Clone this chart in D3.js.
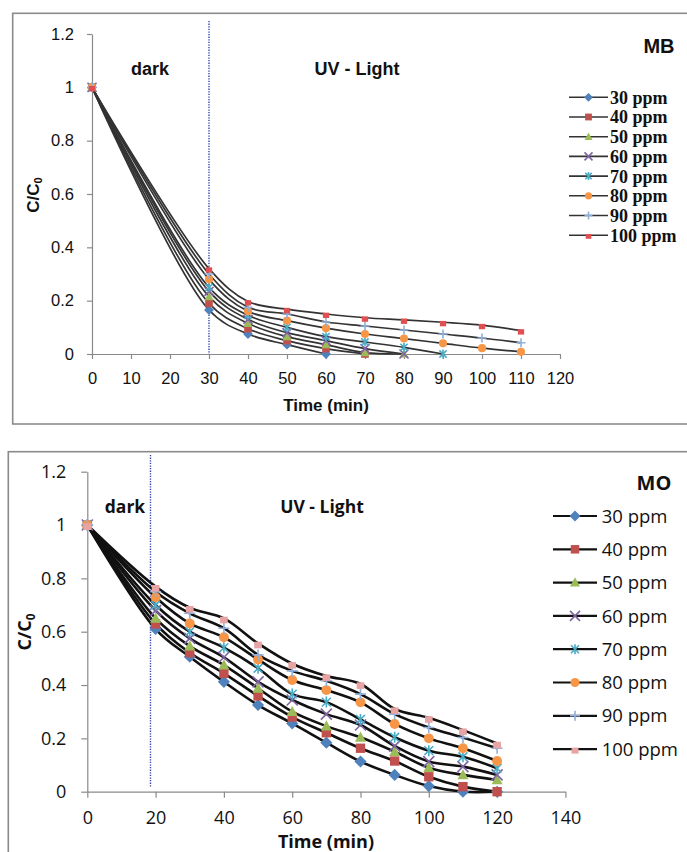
<!DOCTYPE html>
<html>
<head>
<meta charset="utf-8">
<script src="https://cdn.jsdelivr.net/npm/d3@7/dist/d3.min.js"></script>
<style>
  html, body { margin: 0; padding: 0; background: #fff; }
  svg { display: block; }
</style>
</head>
<body>
<svg id="fig" width="687" height="852"></svg>
<script>
// ---- Data: methylene blue (MB) ----
const mbTimes = [0, 30, 40, 50, 60, 70, 80, 90, 100, 110];
const mbXTicks = [0, 10, 20, 30, 40, 50, 60, 70, 80, 90, 100, 110, 120];
const mb30 = [1, 0.165, 0.075, 0.035, 0];
const mb40 = [1, 0.19, 0.095, 0.05, 0.02, 0];
const mb50 = [1, 0.215, 0.115, 0.065, 0.035, 0.005, 0];
const mb60 = [1, 0.235, 0.13, 0.08, 0.05, 0.02, 0];
const mb70 = [1, 0.25, 0.145, 0.1, 0.065, 0.045, 0.025, 0];
const mb80 = [1, 0.28, 0.16, 0.125, 0.097, 0.075, 0.058, 0.04, 0.022, 0.008];
const mb90 = [1, 0.30, 0.175, 0.15, 0.12, 0.105, 0.09, 0.075, 0.06, 0.042];
const mb100 = [1, 0.32, 0.197, 0.168, 0.15, 0.136, 0.128, 0.119, 0.108, 0.088];
const mbDarkEnd = 30;

// ---- Data: methyl orange (MO) ----
const moTimes = [0, 20, 30, 40, 50, 60, 70, 80, 90, 100, 110, 120];
const moXTicks = [0, 20, 40, 60, 80, 100, 120, 140];
const mo30 = [1, 0.61, 0.506, 0.412, 0.325, 0.256, 0.184, 0.113, 0.063, 0.021, 0, 0];
const mo40 = [1, 0.629, 0.521, 0.444, 0.359, 0.28, 0.221, 0.163, 0.115, 0.056, 0.019, 0];
const mo50 = [1, 0.65, 0.546, 0.475, 0.388, 0.30, 0.246, 0.204, 0.15, 0.09, 0.063, 0.044];
const mo60 = [1, 0.679, 0.575, 0.504, 0.412, 0.344, 0.291, 0.25, 0.171, 0.113, 0.094, 0.063];
const mo70 = [1, 0.70, 0.60, 0.54, 0.463, 0.366, 0.336, 0.271, 0.204, 0.154, 0.131, 0.088];
const mo80 = [1, 0.729, 0.631, 0.579, 0.496, 0.419, 0.381, 0.335, 0.254, 0.2, 0.163, 0.115];
const mo90 = [1, 0.75, 0.669, 0.613, 0.513, 0.453, 0.416, 0.366, 0.291, 0.241, 0.203, 0.163];
const mo100 = [1, 0.769, 0.69, 0.65, 0.556, 0.48, 0.434, 0.404, 0.31, 0.277, 0.231, 0.181];
const moDarkEnd = 18.5;

// ---- Shared ----
const seriesNames = ["30 ppm", "40 ppm", "50 ppm", "60 ppm", "70 ppm", "80 ppm", "90 ppm", "100 ppm"];
const yTicks = [0, 0.2, 0.4, 0.6, 0.8, 1, 1.2];
const yTickLabels = ["0", "0.2", "0.4", "0.6", "0.8", "1", "1.2"];

const markerKinds = ["diamond", "square", "triangle", "x", "star", "circle", "plus", "dash"];
const markerColors = ["#4F81BD", "#C0504D", "#9BBB59", "#8064A2", "#4BACC6", "#F79646", "#8FB0DD", "#E07070"];

const svg = d3.select("#fig");

// marker outline in local coordinates, s = nominal width
function markerPath(kind, s) {
  const p = d3.path();
  const h = s / 2;
  switch (kind) {
    case "diamond": p.moveTo(0, -h * 1.1); p.lineTo(h * 1.1, 0); p.lineTo(0, h * 1.1); p.lineTo(-h * 1.1, 0); p.closePath(); break;
    case "square": p.rect(-h * 0.85, -h * 0.85, s * 0.85, s * 0.85); break;
    case "triangle": p.moveTo(0, -h * 1.05); p.lineTo(h, h * 0.8); p.lineTo(-h, h * 0.8); p.closePath(); break;
    case "circle": p.arc(0, 0, h * 0.9, 0, 2 * Math.PI); break;
    case "x": p.moveTo(-h, -h); p.lineTo(h, h); p.moveTo(-h, h); p.lineTo(h, -h); break;
    case "star": p.moveTo(-h * 0.8, -h * 0.8); p.lineTo(h * 0.8, h * 0.8); p.moveTo(-h * 0.8, h * 0.8); p.lineTo(h * 0.8, -h * 0.8); p.moveTo(0, -h); p.lineTo(0, h); break;
    case "plus": p.moveTo(-h, 0); p.lineTo(h, 0); p.moveTo(0, -h); p.lineTo(0, h); break;
    case "dash": p.rect(-h * 0.7, -h * 0.3, s * 0.7, s * 0.6); break;
  }
  return p.toString();
}
const strokeKinds = new Set(["x", "star", "plus"]);

function drawMarker(g, kind, color, s, x, y) {
  const m = g.append("path").attr("d", markerPath(kind, s)).attr("transform", `translate(${x},${y})`);
  if (strokeKinds.has(kind)) m.attr("fill", "none").attr("stroke", color).attr("stroke-width", 1.6);
  else m.attr("fill", color).attr("stroke", "none");
}

function panel(cfg) {
  const g = svg.append("g");
  const x = d3.scaleLinear().domain(cfg.xDomain).range(cfg.xRange);
  const y = d3.scaleLinear().domain([0, 1.2]).range(cfg.yRange);

  // frame
  g.append("rect").attr("x", cfg.frame[0]).attr("y", cfg.frame[1])
    .attr("width", cfg.frame[2]).attr("height", cfg.frame[3])
    .attr("fill", "#fff").attr("stroke", "#8a8a8a").attr("stroke-width", 1.6);

  // axes
  const xa = g.append("g").attr("transform", `translate(0,${cfg.yRange[0]})`)
    .call(d3.axisBottom(x).tickValues(cfg.xTicks).tickFormat(d3.format("d"))
      .tickSize(cfg.tickLen).tickSizeOuter(0).tickPadding(cfg.xPad));
  const ya = g.append("g").attr("transform", `translate(${cfg.xRange[0]},0)`)
    .call(d3.axisLeft(y).tickValues(yTicks).tickFormat((d, i) => yTickLabels[i])
      .tickSize(cfg.tickLen).tickSizeOuter(0).tickPadding(cfg.yPad));
  [xa, ya].forEach(a => {
    a.select(".domain").attr("stroke", "#8a8a8a").attr("stroke-width", 1.2);
    a.selectAll(".tick line").attr("stroke", "#8a8a8a").attr("stroke-width", 1.2);
    a.selectAll(".tick text").attr("fill", "#111")
      .style("font-family", cfg.tickFont).style("font-size", cfg.tickSize + "px");
  });

  // dark / UV boundary
  g.append("line").attr("x1", x(cfg.darkEnd)).attr("x2", x(cfg.darkEnd))
    .attr("y1", cfg.dividerTop).attr("y2", cfg.dividerBottom)
    .attr("stroke", "#2F45B0").attr("stroke-width", 1.4).attr("stroke-dasharray", "1.3,1.3");

  // curves
  const line = d3.line().curve(d3.curveCatmullRom.alpha(0.5))
    .x(d => x(d[0])).y(d => y(d[1]));
  cfg.series.forEach(vals => {
    const pts = vals.map((v, i) => [cfg.times[i], v]);
    g.append("path").datum(pts).attr("d", line).attr("fill", "none")
      .attr("stroke", cfg.lineColor).attr("stroke-width", cfg.lineWidth);
  });
  // markers
  cfg.series.forEach((vals, si) => {
    vals.forEach((v, i) => drawMarker(g, markerKinds[si], cfg.colors[si], cfg.markerSize, x(cfg.times[i]), y(v)));
  });

  // titles
  const bold = (t, px, py, size, anchor) => g.append("text").text(t).attr("x", px).attr("y", py)
    .attr("text-anchor", anchor || "middle").attr("fill", "#111")
    .style("font-family", cfg.titleFont).style("font-weight", "bold").style("font-size", size + "px");
  bold("dark", cfg.darkLabel[0], cfg.darkLabel[1], cfg.labelSize);
  bold("UV - Light", cfg.uvLabel[0], cfg.uvLabel[1], cfg.labelSize);
  bold(cfg.name, cfg.nameLabel[0], cfg.nameLabel[1], cfg.nameSize);
  bold("Time (min)", cfg.timeLabel[0], cfg.timeLabel[1], cfg.axisTitleSize);

  const yl = g.append("text").attr("transform", `translate(${cfg.yLabel[0]},${cfg.yLabel[1]}) rotate(-90)`)
    .attr("text-anchor", "middle").attr("fill", "#111")
    .style("font-family", cfg.titleFont).style("font-weight", "bold").style("font-size", cfg.axisTitleSize + "px");
  yl.append("tspan").text("C/C");
  yl.append("tspan").text("0").attr("dy", "0.3em").style("font-size", (cfg.axisTitleSize * 0.65) + "px");

  // legend
  seriesNames.forEach((name, i) => {
    const ly = cfg.legend.y0 + i * cfg.legend.dy;
    g.append("line").attr("x1", cfg.legend.x0).attr("x2", cfg.legend.x1).attr("y1", ly).attr("y2", ly)
      .attr("stroke", cfg.lineColor).attr("stroke-width", cfg.legend.lw);
    drawMarker(g, markerKinds[i], cfg.colors[i], cfg.legend.ms, (cfg.legend.x0 + cfg.legend.x1) / 2, ly);
    g.append("text").text(name).attr("x", cfg.legend.tx).attr("y", ly).attr("dy", "0.36em")
      .attr("fill", "#111").style("font-family", cfg.legend.font)
      .style("font-weight", cfg.legend.weight).style("font-size", cfg.legend.size + "px");
  });
}

panel({
  name: "MB",
  times: mbTimes,
  series: [mb30, mb40, mb50, mb60, mb70, mb80, mb90, mb100],
  colors: markerColors.map((c, i) => i === 7 ? "#E05050" : c),
  xDomain: [0, 120], xRange: [92, 560], yRange: [354, 34],
  xTicks: mbXTicks, tickLen: 5, xPad: 13, yPad: 13,
  frame: [12.7, 13.3, 700, 410.7],
  darkEnd: mbDarkEnd, dividerTop: 21, dividerBottom: 354,
  lineColor: "#333", lineWidth: 1.7, markerSize: 9,
  tickFont: "'Liberation Sans', Arial, sans-serif", tickSize: 16.5,
  titleFont: "'Liberation Sans', Arial, sans-serif",
  labelSize: 18, nameSize: 20, axisTitleSize: 17,
  darkLabel: [150, 75], uvLabel: [357, 75], nameLabel: [659, 53], timeLabel: [326, 411], yLabel: [39, 195],
  legend: { y0: 97.3, dy: 19.7, x0: 569, x1: 608, tx: 610, lw: 1.6, ms: 8,
            font: "'Liberation Serif', serif", weight: "bold", size: 18 }
});

panel({
  name: "MO",
  times: moTimes,
  series: [mo30, mo40, mo50, mo60, mo70, mo80, mo90, mo100],
  colors: markerColors.map((c, i) => i === 7 ? "#E8A3A3" : c),
  xDomain: [0, 140], xRange: [87.3, 565.4], yRange: [791.7, 471.7],
  xTicks: moXTicks, tickLen: 6, xPad: 14, yPad: 15,
  frame: [8.3, 451.7, 700, 500],
  darkEnd: moDarkEnd, dividerTop: 455, dividerBottom: 787,
  lineColor: "#111", lineWidth: 2.6, markerSize: 11,
  tickFont: "'Open Sans', sans-serif", tickSize: 18,
  titleFont: "'Open Sans', sans-serif",
  labelSize: 17.5, nameSize: 20, axisTitleSize: 18,
  darkLabel: [125, 513], uvLabel: [322, 513], nameLabel: [654, 490], timeLabel: [326, 848], yLabel: [31, 632],
  legend: { y0: 516, dy: 33.3, x0: 553, x1: 597, tx: 601.7, lw: 2.2, ms: 10,
            font: "'Open Sans', sans-serif", weight: "normal", size: 18.5 }
});
</script>
</body>
</html>
